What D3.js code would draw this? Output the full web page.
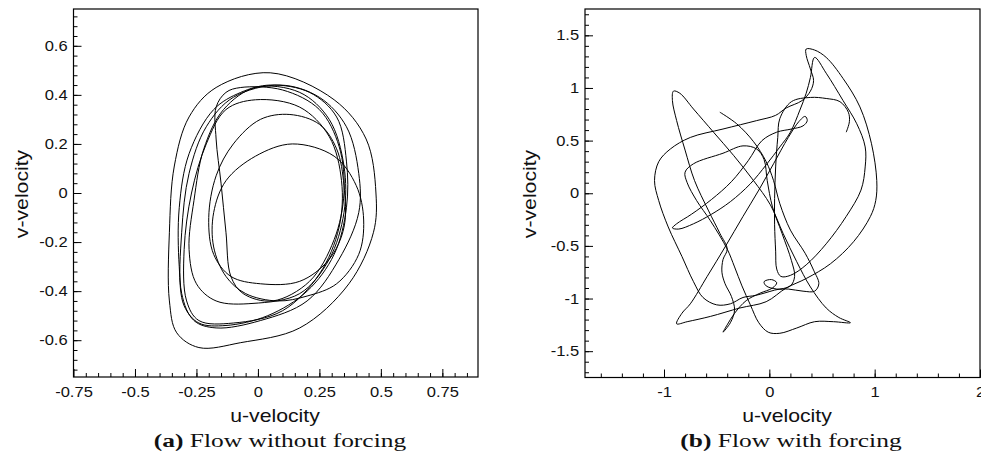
<!DOCTYPE html>
<html>
<head>
<meta charset="utf-8">
<script src="https://cdn.jsdelivr.net/npm/d3@7"></script>
<style>
body { margin: 0; background: #fff; }
.tick text { font-family: "Liberation Sans", Arial, sans-serif; font-size: 14px; fill: #111; }
.tick line { stroke: #000; }
.title { font-family: "Liberation Sans", Arial, sans-serif; font-size: 18px; fill: #111; }
.caption { font-family: "Liberation Serif", "Times New Roman", serif; font-size: 19px; fill: #111; }
</style>
</head>
<body>
<div id="chart"></div>
<script>
// (a) flow without forcing: loops of the orbit, [u, v]
var loopA = [[0.05,0.49],[0.31,0.38],[0.44,0.22],[0.48,0.00],[0.47,-0.16],[0.37,-0.37],[0.17,-0.55],[-0.07,-0.61],[-0.24,-0.63],[-0.33,-0.57],[-0.36,-0.44],[-0.36,-0.16],[-0.34,0.11],[-0.28,0.31],[-0.17,0.43]];
var loopB = [[0.09,0.44],[0.25,0.39],[0.36,0.27],[0.41,0.08],[0.41,-0.08],[0.33,-0.27],[0.20,-0.44],[0.01,-0.52],[-0.17,-0.55],[-0.26,-0.52],[-0.31,-0.41],[-0.31,-0.16],[-0.28,0.08],[-0.21,0.27],[-0.10,0.39]];
var loopC = [[-0.07,0.43],[0.10,0.42],[0.25,0.34],[0.33,0.19],[0.35,0.00],[0.31,-0.19],[0.21,-0.36],[0.06,-0.44],[-0.06,-0.41],[-0.11,-0.34],[-0.13,-0.16],[-0.15,0.04],[-0.17,0.22],[-0.17,0.35],[-0.13,0.41]];
var loopD = [[-0.01,0.43],[0.17,0.41],[0.29,0.30],[0.35,0.11],[0.35,-0.08],[0.29,-0.27],[0.17,-0.41],[-0.02,-0.45],[-0.17,-0.44],[-0.25,-0.37],[-0.28,-0.23],[-0.26,-0.03],[-0.22,0.18],[-0.14,0.34]];
var loopE = [[-0.01,0.38],[0.17,0.35],[0.29,0.23],[0.34,0.05],[0.33,-0.14],[0.25,-0.33],[0.10,-0.48],[-0.10,-0.53],[-0.24,-0.52],[-0.29,-0.44],[-0.30,-0.23],[-0.27,0.00],[-0.21,0.20],[-0.13,0.34]];
var loopF = [[0.13,0.32],[0.25,0.28],[0.32,0.18],[0.35,0.03],[0.35,-0.14],[0.29,-0.27],[0.17,-0.36],[0.01,-0.37],[-0.11,-0.34],[-0.18,-0.25],[-0.20,-0.10],[-0.17,0.07],[-0.10,0.20],[0.01,0.30]];
var loopG = [[0.14,0.20],[0.31,0.15],[0.40,0.03],[0.43,-0.11],[0.41,-0.25],[0.32,-0.37],[0.20,-0.42],[0.08,-0.44],[-0.05,-0.41],[-0.13,-0.34],[-0.18,-0.22],[-0.18,-0.08],[-0.13,0.05],[-0.01,0.15]];
var loopH = [[0.05,0.44],[0.21,0.41],[0.32,0.31],[0.36,0.13],[0.36,-0.06],[0.31,-0.25],[0.20,-0.40],[0.04,-0.50],[-0.13,-0.54],[-0.24,-0.53],[-0.30,-0.46],[-0.32,-0.30],[-0.32,-0.06],[-0.28,0.16],[-0.18,0.34],[-0.07,0.41]];

// (b) flow with forcing: one trajectory, [u, v], in pieces
var forcedStart = [[-0.47,0.77],[-0.31,0.66],[-0.15,0.49],[-0.03,0.30],[0.04,0.12],[0.10,-0.10],[0.20,-0.35],[0.34,-0.57],[0.42,-0.73],[0.47,-0.86],[0.43,-0.93],[0.32,-0.93],[0.18,-0.91],[0.07,-0.91],[-0.03,-0.88],[-0.05,-0.84],[0.02,-0.82],[0.07,-0.85],[0.03,-0.90],[-0.09,-0.95],[-0.22,-1.02],[-0.33,-1.14],[-0.40,-1.25],[-0.44,-1.32],[-0.37,-1.23],[-0.33,-1.11],[-0.36,-0.98],[-0.42,-0.86],[-0.45,-0.75],[-0.44,-0.63],[-0.40,-0.53]];
var forcedPeak = [[-0.47,-0.38],[-0.58,-0.16],[-0.71,0.12],[-0.80,0.41],[-0.88,0.69],[-0.92,0.88],[-0.91,0.97],[-0.85,0.95],[-0.72,0.80],[-0.53,0.58],[-0.34,0.36],[-0.15,0.12],[0.01,-0.11],[0.13,-0.38],[0.26,-0.65],[0.39,-0.89],[0.54,-1.09],[0.66,-1.18],[0.77,-1.23],[0.61,-1.22],[0.43,-1.22],[0.26,-1.28],[0.10,-1.33],[-0.01,-1.32],[-0.10,-1.23],[-0.18,-1.06],[-0.26,-0.88],[-0.33,-0.70],[-0.40,-0.53]];
var forcedOuter = [[-0.56,-0.26],[-0.69,-0.07],[-0.78,0.10],[-0.80,0.20],[-0.72,0.28],[-0.44,0.38],[-0.25,0.45],[-0.12,0.42],[-0.05,0.32],[-0.02,0.12],[0.03,-0.13],[0.12,-0.38],[0.21,-0.64],[0.24,-0.79],[0.20,-0.88],[0.05,-0.92],[-0.13,-0.97],[-0.25,-0.99],[-0.37,-1.05],[-0.50,-1.06],[-0.63,-0.99],[-0.72,-0.84],[-0.83,-0.60],[-0.96,-0.32],[-1.05,-0.07],[-1.09,0.12],[-1.05,0.30],[-0.94,0.42],[-0.75,0.53],[-0.44,0.61],[-0.12,0.69],[0.06,0.74],[0.16,0.81],[0.31,0.88],[0.39,0.97],[0.42,1.07],[0.39,1.18],[0.35,1.31],[0.35,1.37],[0.43,1.36],[0.54,1.29],[0.70,1.09],[0.86,0.82],[0.97,0.47],[1.02,0.12],[1.01,-0.07],[0.96,-0.22],[0.80,-0.46],[0.58,-0.67],[0.35,-0.81],[0.16,-0.90],[-0.03,-1.03],[-0.28,-1.09],[-0.56,-1.17],[-0.78,-1.22],[-0.88,-1.24]];
var forcedEnd = [[-0.83,-1.14],[-0.75,-1.05],[-0.59,-0.79],[-0.42,-0.51],[-0.25,-0.22],[-0.10,0.03],[0.04,0.28],[0.18,0.53],[0.28,0.68],[0.34,0.73],[0.36,0.69],[0.32,0.64],[0.21,0.61],[0.07,0.58],[-0.07,0.50],[-0.20,0.31],[-0.36,0.11],[-0.55,-0.06],[-0.74,-0.20],[-0.88,-0.29],[-0.92,-0.33],[-0.86,-0.34],[-0.72,-0.29],[-0.55,-0.20],[-0.37,-0.08],[-0.18,0.09],[-0.03,0.27],[0.10,0.44],[0.20,0.58],[0.29,0.79],[0.35,0.95],[0.39,1.10],[0.43,1.29],[0.54,1.14],[0.70,0.88],[0.83,0.66],[0.91,0.44],[0.91,0.25],[0.87,0.03],[0.73,-0.22],[0.54,-0.48],[0.35,-0.68],[0.20,-0.78],[0.11,-0.79],[0.07,-0.72],[0.06,-0.55],[0.05,-0.30],[0.05,-0.05],[0.06,0.25],[0.08,0.53],[0.10,0.71],[0.21,0.87],[0.39,0.91],[0.54,0.90],[0.67,0.87],[0.75,0.77],[0.76,0.68],[0.73,0.58]];

// tick labels
var leftXTicks = [-0.75, -0.5, -0.25, 0, 0.25, 0.5, 0.75];
var leftYTicks = [-0.6, -0.4, -0.2, 0, 0.2, 0.4, 0.6];
var rightXTicks = [-1, 0, 1, 2];
var rightYTicks = [-1.5, -1, -0.5, 0, 0.5, 1, 1.5];

var stretch = "scale(1.18,1)";

var svg = d3.select("#chart").append("svg")
    .attr("width", 981)
    .attr("height", 458);

function drawPanel(p) {
  var x = d3.scaleLinear().domain(p.xDomain).range([p.left, p.right]);
  var y = d3.scaleLinear().domain(p.yDomain).range([p.bottom, p.top]);
  var g = svg.append("g");

  //minor ticks, pointing inside
  g.append("g").attr("transform", "translate(0," + p.bottom + ")")
    .call(d3.axisBottom(x).tickValues(p.xMinor).tickSize(-4).tickFormat(""));
  g.append("g").attr("transform", "translate(" + p.left + ",0)")
    .call(d3.axisLeft(y).tickValues(p.yMinor).tickSize(-4).tickFormat(""));

  //major ticks with labels
  g.append("g").attr("transform", "translate(0," + p.bottom + ")")
    .call(d3.axisBottom(x).tickValues(p.xTicks).tickSize(-8).tickPadding(10).tickFormat(function(d){ return String(d); }))
    .selectAll("text").attr("transform", stretch);
  g.append("g").attr("transform", "translate(" + p.left + ",0)")
    .call(d3.axisLeft(y).tickValues(p.yTicks).tickSize(-8).tickPadding(5).tickFormat(function(d){ return String(d); }))
    .selectAll("text").attr("transform", stretch);
  g.selectAll(".domain").remove();

  //frame
  g.append("rect")
    .attr("x", p.left).attr("y", p.top)
    .attr("width", p.right - p.left).attr("height", p.bottom - p.top)
    .attr("fill", "none").attr("stroke", "#000").attr("stroke-width", 1.2);

  //curves
  var closedLine = d3.line()
    .x(function(d){ return x(d[0]); })
    .y(function(d){ return y(d[1]); })
    .curve(d3.curveCatmullRomClosed.alpha(0.5));
  var openLine = d3.line()
    .x(function(d){ return x(d[0]); })
    .y(function(d){ return y(d[1]); })
    .curve(d3.curveCatmullRom.alpha(0.5));
  g.selectAll(".orbit").data(p.loops || []).enter().append("path")
    .attr("class", "orbit")
    .attr("d", closedLine)
    .attr("fill", "none").attr("stroke", "#000").attr("stroke-width", 1);
  if (p.path) {
    g.append("path").datum(p.path)
      .attr("d", openLine)
      .attr("fill", "none").attr("stroke", "#000").attr("stroke-width", 1);
  }

  //axis titles
  g.append("text").attr("class", "title")
    .attr("transform", "translate(" + p.xTitleX + ",422) " + stretch)
    .attr("text-anchor", "middle")
    .text("u-velocity");
  g.append("text").attr("class", "title")
    .attr("transform", "translate(" + p.yTitleX + ",194) rotate(-90) " + stretch)
    .attr("text-anchor", "middle")
    .text("v-velocity");

  //caption
  var cap = g.append("text").attr("class", "caption")
    .attr("transform", "translate(" + p.capX + ",447) scale(1.34,1)")
    .attr("text-anchor", "middle");
  cap.append("tspan").attr("font-weight", "bold").text(p.capTag);
  cap.append("tspan").text(" " + p.capText);
}

drawPanel({
  xDomain: [-0.75, 0.895], yDomain: [-0.75, 0.75],
  left: 73.5, right: 478, top: 9, bottom: 377,
  xTicks: leftXTicks, yTicks: leftYTicks,
  xMinor: d3.range(-0.7, 0.9, 0.05), yMinor: d3.range(-0.72, 0.73, 0.04),
  loops: [loopA, loopB, loopC, loopD, loopE, loopF, loopG, loopH],
  xTitleX: 275, yTitleX: 28, capX: 280,
  capTag: "(a)", capText: "Flow without forcing"
});

drawPanel({
  xDomain: [-1.75, 2], yDomain: [-1.75, 1.75],
  left: 585, right: 980, top: 9, bottom: 377.5,
  xTicks: rightXTicks, yTicks: rightYTicks,
  xMinor: d3.range(-1.6, 2.01, 0.2), yMinor: d3.range(-1.7, 1.71, 0.1),
  path: forcedStart.concat(forcedPeak, forcedOuter, forcedEnd),
  xTitleX: 787, yTitleX: 536, capX: 791,
  capTag: "(b)", capText: "Flow with forcing"
});
</script>
</body>
</html>
